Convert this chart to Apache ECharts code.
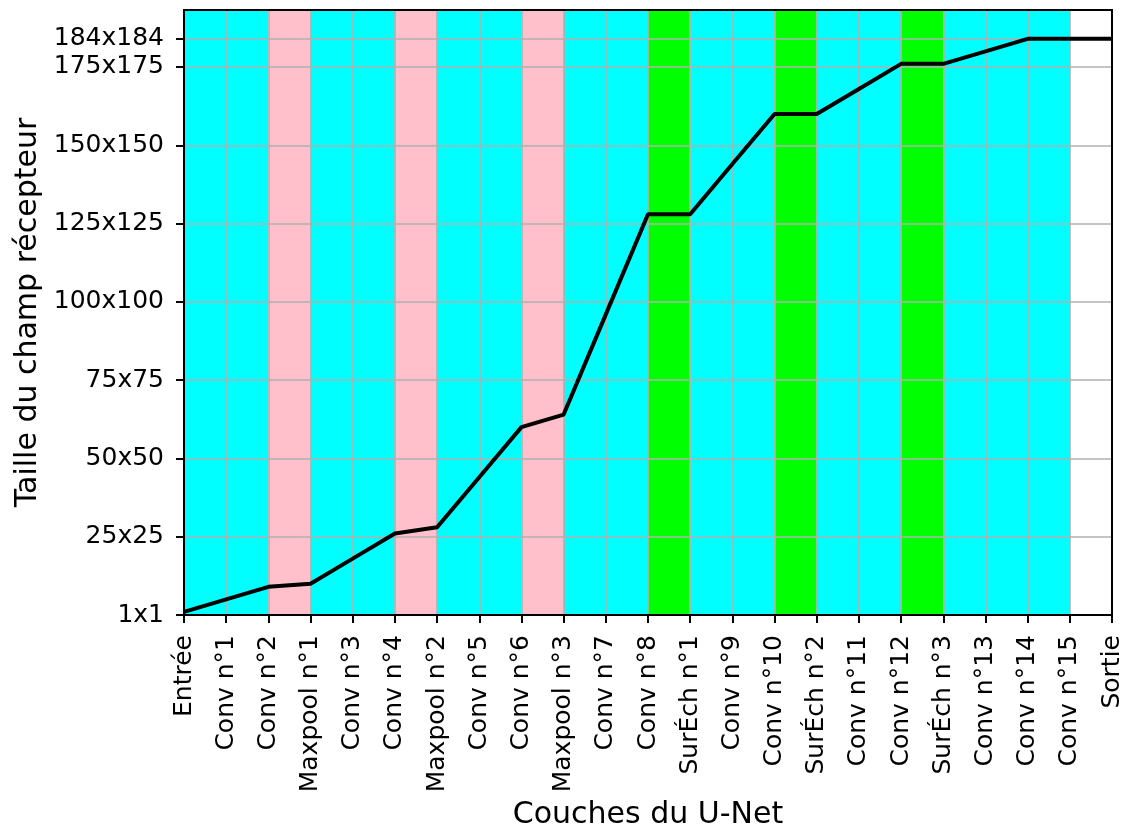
<!DOCTYPE html>
<html>
<head>
<meta charset="utf-8">
<script src="https://cdn.jsdelivr.net/npm/echarts@6/dist/echarts.min.js"></script>
<style>
html,body{margin:0;padding:0;background:#fff;}
#chart{width:1126px;height:830px;}
</style>
</head>
<body>
<div id="chart"></div>
<script>
const layers = ["Entrée","Conv n°1","Conv n°2","Maxpool n°1","Conv n°3","Conv n°4","Maxpool n°2","Conv n°5","Conv n°6","Maxpool n°3","Conv n°7","Conv n°8","SurÉch n°1","Conv n°9","Conv n°10","SurÉch n°2","Conv n°11","Conv n°12","SurÉch n°3","Conv n°13","Conv n°14","Conv n°15","Sortie"];
const receptiveField = [1,5,9,10,18,26,28,44,60,64,96,128,128,144,160,160,168,176,176,180,184,184,184];
const yTickValues = [0,25,50,75,100,125,150,175,184];
const yTickLabels = ["1x1","25x25","50x50","75x75","100x100","125x125","150x150","175x175","184x184"];
const bandColors = {Conv:"#00ffff", Maxpool:"#ffc0cb", "SurÉch":"#00ff00"};

const FONT = "DejaVu Sans";
const yMax = 184 * 1.05;

const bands = [];
for (let i = 1; i < layers.length; i++) {
  const kind = layers[i].split(" ")[0];
  const c = bandColors[kind];
  if (c) bands.push([{xAxis: i - 1, itemStyle: {color: c, opacity: 1}}, {xAxis: i}]);
}

const chart = echarts.init(document.getElementById('chart'), null, {renderer: 'canvas'});
chart.setOption({
  animation: false,
  backgroundColor: '#fff',
  grid: {left: 184, right: 14, top: 10, bottom: 215, outerBoundsMode: 'none', containLabel: false,
    show: true, borderColor: '#000', borderWidth: 2, backgroundColor: 'transparent', z: 20},
  xAxis: {
    type: 'value', min: 0, max: layers.length - 1, interval: 1, z: 3,
    name: 'Couches du U-Net', nameLocation: 'middle', nameGap: 182,
    nameTextStyle: {fontFamily: FONT, fontSize: 30, color: '#000'},
    axisLine: {show: true, onZero: false, lineStyle: {color: '#000', width: 2}},
    axisTick: {show: true, length: 8, lineStyle: {color: '#000', width: 2}},
    axisLabel: {rotate: 90, margin: 20, fontFamily: FONT, fontSize: 25, color: '#000',
      formatter: v => layers[v] !== undefined ? layers[v] : ''},
    splitLine: {show: true, lineStyle: {color: '#b0b0b0', width: 1.6}}
  },
  yAxis: {
    type: 'value', min: 0, max: yMax, z: 3,
    name: 'Taille du champ récepteur', nameLocation: 'middle', nameGap: 138,
    nameTextStyle: {fontFamily: FONT, fontSize: 30, color: '#000'},
    axisLine: {show: true, onZero: false, lineStyle: {color: '#000', width: 2}},
    axisTick: {show: true, length: 8, customValues: yTickValues, lineStyle: {color: '#000', width: 2}},
    axisLabel: {margin: 20, fontFamily: FONT, fontSize: 25, color: '#000', customValues: yTickValues,
      formatter: v => { const k = yTickValues.indexOf(v); return k >= 0 ? yTickLabels[k] : ''; }},
    splitLine: {show: true, lineStyle: {color: '#b0b0b0', width: 1.6}}
  },
  series: [
    {
      type: 'line', z: 1, data: [], silent: true,
      markArea: {silent: true, data: bands}
    },
    {
      type: 'line', z: 10, showSymbol: false, symbol: 'none',
      lineStyle: {color: '#000', width: 4},
      data: receptiveField.map((v, i) => [i, v])
    }
  ]
});
</script>
</body>
</html>
